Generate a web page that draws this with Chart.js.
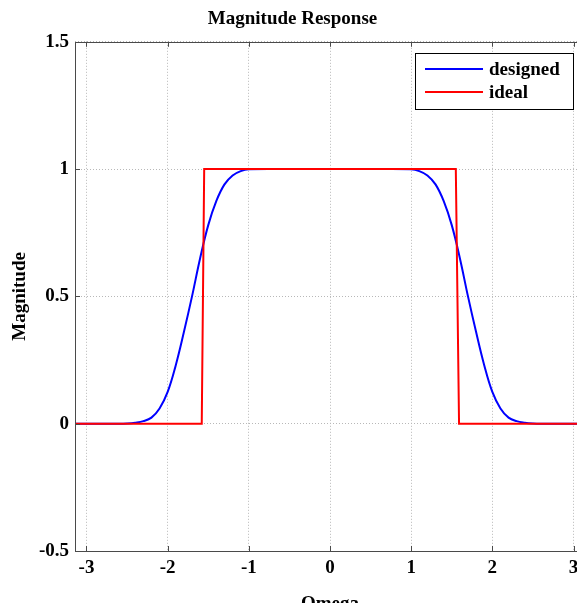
<!DOCTYPE html>
<html>
<head>
<meta charset="utf-8">
<title>Magnitude Response</title>
<script src="https://cdn.jsdelivr.net/npm/chart.js@4"></script>
<style>
  html, body { margin: 0; padding: 0; overflow: hidden; background: #fff; }
  canvas { display: block; }
</style>
</head>
<body>
<canvas id="grafico" width="585" height="615"></canvas>
<script>
// dados: resposta em magnitude
var omegaDesigned = [-3.1416, -2.6, -2.5, -2.4, -2.3, -2.2, -2.1, -2.0, -1.9, -1.8, -1.7, -1.6, -1.5, -1.4, -1.3, -1.2, -1.1, -1.0, -0.5,
                     0, 0.5, 1.0, 1.1, 1.2, 1.3, 1.4, 1.5, 1.6, 1.7, 1.8, 1.9, 2.0, 2.1, 2.2, 2.3, 2.4, 2.5, 2.6, 3.1416];
var magDesigned = [0, 0, 0.001, 0.004, 0.01, 0.024, 0.06, 0.125, 0.23, 0.36, 0.50, 0.65, 0.78, 0.875, 0.94, 0.975, 0.992, 0.999, 1,
                   1, 1, 0.999, 0.992, 0.975, 0.94, 0.875, 0.78, 0.65, 0.50, 0.36, 0.23, 0.125, 0.06, 0.024, 0.01, 0.004, 0.001, 0, 0];

var omegaIdeal = [-3.1416, -1.58, -1.55, 1.55, 1.59, 3.1416];
var magIdeal = [0, 0, 1, 1, 0, 0];

var xTicks = [-3, -2, -1, 0, 1, 2, 3];
var yTicks = [-0.5, 0, 0.5, 1, 1.5];

var fonte = '"Liberation Serif", "Times New Roman", serif';
Chart.defaults.font.family = fonte;
Chart.defaults.font.size = 19;
Chart.defaults.font.weight = 'bold';
Chart.defaults.color = '#000';

function pontos(xs, ys) {
  return xs.map(function (x, i) { return { x: x, y: ys[i] }; });
}

// caixa, marcas internas e legenda no estilo MATLAB
var moldura = {
  id: 'moldura',
  afterDraw: function (chart) {
    var c = chart.ctx, a = chart.chartArea;
    var sx = chart.scales.x, sy = chart.scales.y;
    c.save();
    c.strokeStyle = '#4a4a4a';
    c.lineWidth = 1;
    c.beginPath();
    xTicks.forEach(function (t) {
      var px = Math.round(sx.getPixelForValue(t)) + 0.5;
      c.moveTo(px, a.top); c.lineTo(px, a.top + 5);
      c.moveTo(px, a.bottom); c.lineTo(px, a.bottom - 5);
    });
    yTicks.forEach(function (t) {
      var py = Math.round(sy.getPixelForValue(t)) + 0.5;
      c.moveTo(a.left, py); c.lineTo(a.left + 5, py);
      c.moveTo(a.right, py); c.lineTo(a.right - 5, py);
    });
    c.stroke();
    c.strokeRect(Math.round(a.left) + 0.5, Math.round(a.top) + 0.5, Math.round(a.right - a.left), Math.round(a.bottom - a.top));

    // legenda
    var lx = 415, ly = 53, lw = 158, lh = 56;
    c.fillStyle = '#fff';
    c.fillRect(lx, ly, lw, lh);
    c.strokeStyle = '#000';
    c.strokeRect(lx + 0.5, ly + 0.5, lw, lh);
    c.font = 'bold 19px ' + fonte;
    c.textBaseline = 'middle';
    c.textAlign = 'left';
    chart.data.datasets.forEach(function (ds, i) {
      var y = ly + 16 + i * 23;
      c.strokeStyle = ds.borderColor;
      c.lineWidth = 2;
      c.beginPath();
      c.moveTo(lx + 10, y); c.lineTo(lx + 68, y);
      c.stroke();
      c.fillStyle = '#000';
      c.fillText(ds.label, lx + 74, y + 1);
    });
    c.restore();
  }
};

var ctx = grafico.getContext('2d');

var grafico1 = new Chart(ctx, {
  type: 'line',
  data: {
    datasets: [{
      label: 'designed',
      data: pontos(omegaDesigned, magDesigned),
      borderColor: '#0000ff',
      borderWidth: 2,
      pointRadius: 0,
      tension: 0.4,
      order: 1
    }, {
      label: 'ideal',
      data: pontos(omegaIdeal, magIdeal),
      borderColor: '#ff0000',
      borderWidth: 2,
      pointRadius: 0,
      tension: 0,
      order: 0
    }]
  },
  options: {
    responsive: false,
    animation: false,
    devicePixelRatio: 1,
    layout: { padding: 0 },
    plugins: {
      legend: { display: false },
      tooltip: { enabled: false },
      title: {
        display: true,
        text: 'Magnitude Response',
        font: { size: 19, weight: 'bold' },
        color: '#000',
        padding: { top: 8, bottom: 11 }
      }
    },
    scales: {
      x: {
        type: 'linear',
        min: -3.1416,
        max: 3.1416,
        afterFit: function (s) { s.height = 64; },
        afterBuildTicks: function (s) { s.ticks = xTicks.map(function (v) { return { value: v }; }); },
        ticks: { autoSkip: false, maxRotation: 0, padding: 6, callback: function (v) { return String(v); } },
        grid: { color: '#b8b8b8', drawTicks: false },
        border: { display: false, dash: [1, 2] },
        title: { display: true, text: 'Omega', font: { size: 19, weight: 'bold' }, padding: 0 }
      },
      y: {
        min: -0.5,
        max: 1.5,
        afterFit: function (s) { s.width = 75; },
        afterBuildTicks: function (s) { s.ticks = yTicks.map(function (v) { return { value: v }; }); },
        ticks: { padding: 6, callback: function (v) { return String(v); } },
        grid: { color: '#b8b8b8', drawTicks: false },
        border: { display: false, dash: [1, 2] },
        title: { display: true, text: 'Magnitude', font: { size: 19, weight: 'bold' }, padding: { top: 9 } }
      }
    }
  },
  plugins: [moldura]
});
</script>
</body>
</html>
